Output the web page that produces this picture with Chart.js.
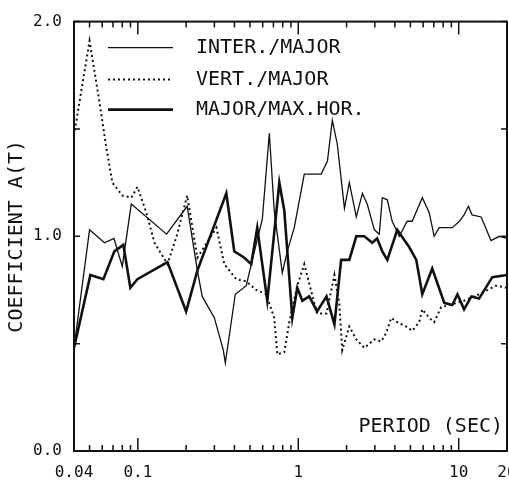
<!DOCTYPE html>
<html>
<head>
<meta charset="utf-8">
<script src="https://cdn.jsdelivr.net/npm/chart.js@4.4.1/dist/chart.umd.min.js"></script>
<style>
  html, body { margin: 0; padding: 0; background: #fff; }
  canvas { display: block; }
</style>
</head>
<body>
<canvas id="chart" width="509" height="481"></canvas>
<script>
// periods (sec) and coefficient A(T)
const interPeriod = [0.04, 0.05, 0.062, 0.071, 0.08, 0.091, 0.151, 0.203, 0.235, 0.252, 0.30, 0.341, 0.351, 0.405, 0.474, 0.517, 0.597, 0.66, 0.708, 0.795, 0.854, 0.944, 1.09, 1.39, 1.52, 1.63, 1.75, 1.94, 2.08, 2.30, 2.51, 2.69, 2.98, 3.20, 3.34, 3.59, 3.85, 4.26, 4.77, 5.13, 5.93, 6.55, 7.03, 7.56, 9.12, 10.1, 10.8, 11.5, 12.1, 13.8, 15.9, 17.9, 20];
const interCoef = [0.48, 1.03, 0.97, 0.99, 0.86, 1.15, 1.01, 1.14, 0.84, 0.72, 0.62, 0.47, 0.41, 0.73, 0.77, 0.89, 1.08, 1.48, 1.12, 0.83, 0.93, 1.04, 1.29, 1.29, 1.35, 1.54, 1.43, 1.13, 1.25, 1.09, 1.20, 1.15, 1.03, 1.01, 1.18, 1.17, 1.07, 1.00, 1.07, 1.07, 1.18, 1.11, 1.00, 1.04, 1.04, 1.07, 1.10, 1.14, 1.10, 1.09, 0.98, 1.00, 0.99];

const vertPeriod = [0.04, 0.05, 0.0575, 0.0637, 0.0694, 0.08, 0.0912, 0.0994, 0.113, 0.127, 0.153, 0.176, 0.203, 0.235, 0.309, 0.346, 0.411, 0.474, 0.547, 0.632, 0.708, 0.74, 0.818, 0.879, 0.986, 1.09, 1.17, 1.31, 1.50, 1.68, 1.80, 1.88, 2.08, 2.30, 2.58, 2.98, 3.29, 3.53, 3.80, 4.14, 4.70, 5.13, 5.67, 5.93, 6.55, 7.03, 7.78, 8.73, 10.8, 13.4, 17.1, 20];
const vertCoef = [1.47, 1.91, 1.63, 1.41, 1.25, 1.19, 1.18, 1.23, 1.11, 0.97, 0.87, 1.01, 1.19, 0.90, 1.04, 0.87, 0.80, 0.79, 0.75, 0.73, 0.62, 0.45, 0.46, 0.60, 0.77, 0.87, 0.78, 0.64, 0.64, 0.82, 0.69, 0.47, 0.58, 0.52, 0.48, 0.52, 0.51, 0.55, 0.62, 0.60, 0.58, 0.56, 0.60, 0.66, 0.62, 0.60, 0.67, 0.68, 0.70, 0.73, 0.77, 0.76];

const majorPeriod = [0.04, 0.0506, 0.061, 0.0714, 0.0812, 0.0898, 0.0994, 0.153, 0.20, 0.235, 0.356, 0.399, 0.461, 0.509, 0.555, 0.641, 0.762, 0.818, 0.918, 0.986, 1.06, 1.17, 1.31, 1.50, 1.68, 1.85, 2.08, 2.30, 2.58, 2.89, 3.10, 3.34, 3.59, 4.14, 4.91, 5.44, 5.93, 6.84, 8.13, 9.12, 9.82, 10.8, 12.0, 13.4, 16.2, 20];
const majorCoef = [0.48, 0.82, 0.80, 0.93, 0.96, 0.76, 0.80, 0.88, 0.65, 0.84, 1.20, 0.93, 0.90, 0.87, 1.04, 0.70, 1.25, 1.12, 0.62, 0.76, 0.70, 0.72, 0.65, 0.72, 0.59, 0.89, 0.89, 1.00, 1.00, 0.97, 0.99, 0.93, 0.89, 1.03, 0.95, 0.89, 0.73, 0.85, 0.69, 0.68, 0.73, 0.66, 0.72, 0.71, 0.81, 0.82];

const seriesNames = ['INTER./MAJOR', 'VERT./MAJOR', 'MAJOR/MAX.HOR.'];

// axis ticks
const xTicks = [0.04, 0.05, 0.06, 0.07, 0.08, 0.09, 0.1, 0.2, 0.3, 0.4, 0.5, 0.6, 0.7, 0.8, 0.9, 1, 2, 3, 4, 5, 6, 7, 8, 9, 10, 20];
const xMajor = [0.1, 1, 10];
const xLabels = { 0.04: '0.04', 0.1: '0.1', 1: '1', 10: '10', 20: '20' };
const yTicks = [0, 0.5, 1, 1.5, 2];
const yLabels = { 0: '0.0', 1: '1.0', 2: '2.0' };

const ink = '#111';
const mono = '"DejaVu Sans Mono", monospace';

function pts(xs, ys) {
    return xs.map((p, i) => ({ x: p, y: ys[i] }));
}

// frame, inward tick marks, legend and period label
const plotterBits = {
    id: 'plotterBits',
    afterDraw(chart) {
        const ctx = chart.ctx;
        const a = chart.chartArea;
        const xs = chart.scales.x;
        const ys = chart.scales.y;
        ctx.save();
        ctx.setLineDash([]);
        ctx.strokeStyle = ink;
        ctx.lineWidth = 2;
        ctx.strokeRect(a.left, a.top, a.right - a.left, a.bottom - a.top);

        ctx.lineWidth = 1.5;
        xs.ticks.forEach((t, i) => {
            const px = xs.getPixelForTick(i);
            const len = xMajor.includes(t.value) ? 13 : 6;
            ctx.beginPath();
            ctx.moveTo(px, a.bottom);
            ctx.lineTo(px, a.bottom - len);
            ctx.moveTo(px, a.top);
            ctx.lineTo(px, a.top + len);
            ctx.stroke();
        });
        ys.ticks.forEach((t, i) => {
            const py = ys.getPixelForTick(i);
            ctx.beginPath();
            ctx.moveTo(a.left, py);
            ctx.lineTo(a.left + 6, py);
            ctx.moveTo(a.right, py);
            ctx.lineTo(a.right - 6, py);
            ctx.stroke();
        });

        // legend
        ctx.font = '20px ' + mono;
        ctx.fillStyle = ink;
        ctx.textAlign = 'left';
        ctx.textBaseline = 'middle';
        const rows = [26, 58, 88];
        chart.data.datasets.forEach((ds, i) => {
            const ly = a.top + rows[i];
            ctx.beginPath();
            ctx.lineWidth = ds.borderWidth;
            ctx.setLineDash(ds.borderDash || []);
            ctx.moveTo(a.left + 34, ly);
            ctx.lineTo(a.left + 99, ly);
            ctx.stroke();
            ctx.setLineDash([]);
            ctx.fillText(ds.label, a.left + 122, ly);
        });

        ctx.textAlign = 'right';
        ctx.textBaseline = 'alphabetic';
        ctx.fillText('PERIOD (SEC)', a.right - 4, a.bottom - 19);
        ctx.restore();
    }
};

new Chart(document.getElementById('chart'), {
    type: 'line',
    data: {
        datasets: [{
            label: seriesNames[0],
            data: pts(interPeriod, interCoef),
            borderColor: ink,
            borderWidth: 1.3
        }, {
            label: seriesNames[1],
            data: pts(vertPeriod, vertCoef),
            borderColor: ink,
            borderWidth: 2,
            borderDash: [2, 3]
        }, {
            label: seriesNames[2],
            data: pts(majorPeriod, majorCoef),
            borderColor: ink,
            borderWidth: 2.6
        }]
    },
    options: {
        responsive: false,
        animation: false,
        devicePixelRatio: 1,
        elements: {
            point: { radius: 0 },
            line: { tension: 0, fill: false }
        },
        layout: { padding: { top: 20, right: 2, left: 0, bottom: 0 } },
        plugins: {
            legend: { display: false },
            tooltip: { enabled: false }
        },
        scales: {
            x: {
                type: 'logarithmic',
                min: 0.04,
                max: 20,
                grid: { display: false, drawTicks: false },
                border: { display: false },
                afterBuildTicks: s => { s.ticks = xTicks.map(v => ({ value: v })); },
                afterFit: s => { s.height = 30; s.paddingLeft = 0; s.paddingRight = 0; },
                ticks: {
                    autoSkip: false,
                    maxRotation: 0,
                    minRotation: 0,
                    padding: 12,
                    color: ink,
                    font: { family: mono, size: 16 },
                    callback: v => xLabels[v] || ''
                }
            },
            y: {
                min: 0,
                max: 2,
                grid: { display: false, drawTicks: false },
                border: { display: false },
                afterBuildTicks: s => { s.ticks = yTicks.map(v => ({ value: v })); },
                afterFit: s => { s.width = 74; },
                ticks: {
                    padding: 12,
                    color: ink,
                    font: { family: mono, size: 16 },
                    callback: v => yLabels[v] || ''
                },
                title: {
                    display: true,
                    text: 'COEFFICIENT A(T)',
                    color: ink,
                    font: { family: mono, size: 20 },
                    padding: { top: 5, bottom: 0 }
                }
            }
        }
    },
    plugins: [plotterBits]
});
</script>
</body>
</html>
